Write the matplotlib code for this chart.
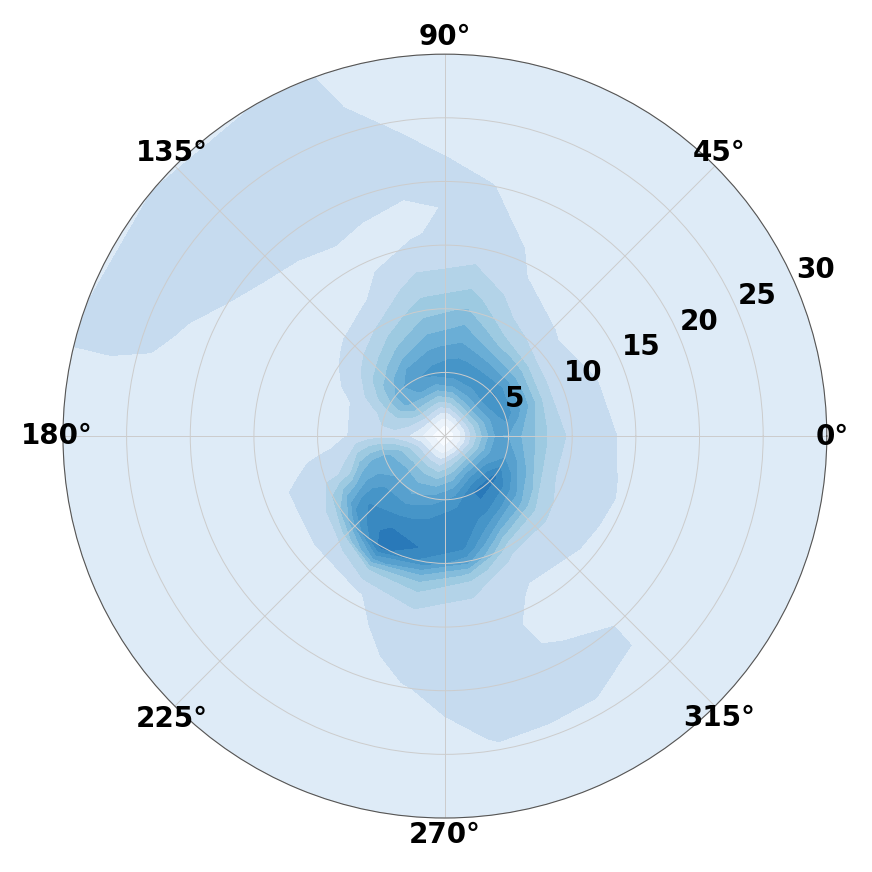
import numpy as np
import matplotlib
matplotlib.use("Agg")
import matplotlib.pyplot as plt

# grid: angle of each profile (degrees) and radial sample points
theta_deg = [0, 20, 40, 60, 80, 100, 120, 140, 160, 180, 200, 220, 240, 260, 280, 300, 320, 340]
radius = [0, 1, 2, 3, 4, 5, 6, 7, 8, 9, 10, 11, 12, 14, 16, 18, 20, 22, 24, 27, 30]

# density along each ray
z_000 = [0.02, 0.08, 0.24, 0.38, 0.50, 0.49, 0.43, 0.38, 0.31, 0.26, 0.24, 0.23, 0.21, 0.18, 0.17, 0.16, 0.155, 0.15, 0.15, 0.15, 0.15]
z_020 = [0.02, 0.08, 0.25, 0.40, 0.52, 0.60, 0.52, 0.43, 0.32, 0.245, 0.23, 0.215, 0.195, 0.175, 0.17, 0.16, 0.155, 0.15, 0.15, 0.15, 0.15]
z_040 = [0.02, 0.09, 0.27, 0.44, 0.56, 0.63, 0.55, 0.45, 0.36, 0.26, 0.225, 0.20, 0.18, 0.17, 0.16, 0.155, 0.15, 0.15, 0.15, 0.15, 0.15]
z_060 = [0.02, 0.08, 0.25, 0.42, 0.54, 0.60, 0.55, 0.47, 0.39, 0.32, 0.27, 0.24, 0.22, 0.18, 0.17, 0.16, 0.155, 0.15, 0.15, 0.15, 0.15]
z_080 = [0.02, 0.07, 0.21, 0.36, 0.50, 0.60, 0.57, 0.52, 0.47, 0.43, 0.38, 0.34, 0.30, 0.24, 0.22, 0.20, 0.19, 0.17, 0.16, 0.155, 0.15]
z_100 = [0.02, 0.07, 0.20, 0.34, 0.48, 0.58, 0.55, 0.49, 0.44, 0.39, 0.35, 0.31, 0.28, 0.22, 0.18, 0.178, 0.20, 0.205, 0.19, 0.175, 0.17]
z_120 = [0.02, 0.08, 0.23, 0.37, 0.50, 0.55, 0.50, 0.42, 0.36, 0.31, 0.26, 0.22, 0.19, 0.17, 0.175, 0.195, 0.21, 0.215, 0.215, 0.21, 0.205]
z_140 = [0.02, 0.08, 0.23, 0.36, 0.45, 0.44, 0.39, 0.33, 0.27, 0.23, 0.20, 0.18, 0.17, 0.16, 0.17, 0.18, 0.20, 0.22, 0.22, 0.22, 0.22]
z_160 = [0.02, 0.07, 0.19, 0.27, 0.30, 0.27, 0.24, 0.21, 0.185, 0.17, 0.16, 0.155, 0.15, 0.15, 0.155, 0.16, 0.17, 0.18, 0.20, 0.21, 0.21]
z_180 = [0.02, 0.06, 0.14, 0.19, 0.22, 0.23, 0.22, 0.20, 0.18, 0.16, 0.15, 0.145, 0.14, 0.14, 0.14, 0.14, 0.14, 0.14, 0.14, 0.14, 0.14]
z_200 = [0.02, 0.08, 0.21, 0.32, 0.41, 0.46, 0.45, 0.40, 0.28, 0.245, 0.235, 0.22, 0.20, 0.175, 0.165, 0.16, 0.155, 0.15, 0.15, 0.15, 0.15]
z_220 = [0.02, 0.08, 0.23, 0.35, 0.44, 0.50, 0.55, 0.60, 0.62, 0.57, 0.42, 0.27, 0.21, 0.175, 0.165, 0.16, 0.155, 0.15, 0.15, 0.15, 0.15]
z_240 = [0.02, 0.08, 0.22, 0.34, 0.42, 0.48, 0.55, 0.61, 0.67, 0.72, 0.71, 0.52, 0.31, 0.18, 0.165, 0.16, 0.155, 0.15, 0.15, 0.15, 0.15]
z_260 = [0.02, 0.07, 0.20, 0.32, 0.43, 0.52, 0.60, 0.64, 0.67, 0.68, 0.60, 0.44, 0.33, 0.24, 0.22, 0.20, 0.185, 0.175, 0.165, 0.155, 0.15]
z_280 = [0.02, 0.08, 0.25, 0.37, 0.48, 0.58, 0.64, 0.66, 0.66, 0.62, 0.52, 0.36, 0.27, 0.225, 0.215, 0.21, 0.205, 0.20, 0.19, 0.17, 0.16]
z_300 = [0.02, 0.09, 0.28, 0.44, 0.58, 0.70, 0.68, 0.60, 0.50, 0.38, 0.28, 0.23, 0.20, 0.18, 0.17, 0.18, 0.205, 0.205, 0.185, 0.16, 0.15]
z_320 = [0.02, 0.09, 0.28, 0.44, 0.58, 0.70, 0.62, 0.52, 0.42, 0.32, 0.26, 0.23, 0.21, 0.185, 0.175, 0.175, 0.175, 0.175, 0.155, 0.15, 0.15]
z_340 = [0.02, 0.08, 0.25, 0.40, 0.52, 0.56, 0.50, 0.41, 0.32, 0.255, 0.235, 0.22, 0.205, 0.19, 0.17, 0.16, 0.155, 0.15, 0.15, 0.15, 0.15]

r_ticks = [5, 10, 15, 20, 25, 30]
theta_ticks = [0, 45, 90, 135, 180, 225, 270, 315]

profiles = [z_000, z_020, z_040, z_060, z_080, z_100, z_120, z_140, z_160,
            z_180, z_200, z_220, z_240, z_260, z_280, z_300, z_320, z_340]

# close the circle by repeating the first ray at 360 deg
theta = np.deg2rad(theta_deg + [360])
Z = np.array(profiles + [profiles[0]]).T
T, R = np.meshgrid(theta, radius)

fig = plt.figure(figsize=(8.72, 8.72), dpi=100)
ax = fig.add_axes([0.0722, 0.0619, 0.876, 0.876], projection="polar")

levels = np.linspace(0, 1, 17)
cmap = plt.get_cmap("Blues")
band_pos = [0.0, 0.06, 0.125, 0.25, 0.31, 0.375, 0.44, 0.5, 0.56, 0.61, 0.66, 0.72,
            0.78, 0.84, 0.9, 0.96]
band_colors = [cmap(p) for p in band_pos]
ax.set_facecolor(band_colors[2])
ax.contourf(T, R, Z, levels=levels, colors=band_colors)

ax.set_ylim(0, 30)
ax.set_rticks(r_ticks)
ax.set_xticks(np.deg2rad(theta_ticks))
ax.set_xticklabels([])
ax.set_yticklabels([])
ax.grid(True, color="#cccccc", linewidth=0.7)
ax.spines["polar"].set_linewidth(0.8)
ax.spines["polar"].set_color("#555555")

# angle labels, placed just outside the rim
px = 0.72  # pixels -> points
theta_off = {0: (5, 1), 45: (4, 15), 90: (0, 19), 135: (-3, 15),
             180: (-6, 2), 225: (-3, -11), 270: (0, -15), 315: (4, -10)}
for t in theta_ticks:
    dx, dy = theta_off[t]
    ax.annotate(f"{t}°", xy=(np.deg2rad(t), 30), xytext=(dx * px, (dy - 10) * px),
                textcoords="offset points", ha="center", va="baseline",
                fontsize=20, fontweight="bold", annotation_clip=False)

# radius labels along a ray near 24 deg
for r in r_ticks:
    ax.annotate(str(r), xy=(np.deg2rad(23.8), r), xytext=(2 * px, 3.7 * px),
                textcoords="offset points", ha="left", va="baseline",
                fontsize=20, fontweight="bold", annotation_clip=False)

fig.savefig("out.png", dpi=100)
